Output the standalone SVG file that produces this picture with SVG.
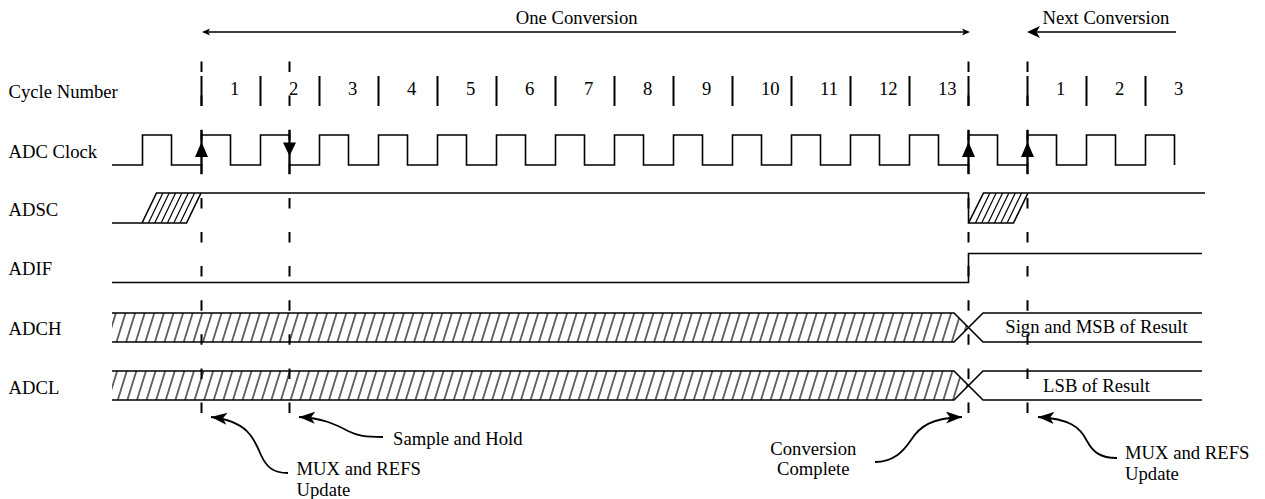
<svg xmlns="http://www.w3.org/2000/svg" width="1265" height="499" viewBox="0 0 1265 499">
<style>
text{font-family:"Liberation Serif","Times New Roman",serif;font-size:18.67px;fill:#000}
.sig{fill:none;stroke:#000;stroke-width:1.6}
.tick{fill:none;stroke:#000;stroke-width:2}
.dash{fill:none;stroke:#000;stroke-width:2;stroke-dasharray:10.5 23.6}
.hl{fill:none;stroke:#000;stroke-width:1.2}
.ann{fill:none;stroke:#000;stroke-width:1.8;marker-end:url(#ah)}
.mid{text-anchor:middle}
</style>
<defs>
<marker id="ah" markerUnits="userSpaceOnUse" viewBox="0 0 18 14" markerWidth="18" markerHeight="14" refX="16" refY="6" orient="auto">
<path d="M0,0 L16,6 L0,12 L4,6 z" fill="#000"/>
</marker>
<pattern id="hatch" patternUnits="userSpaceOnUse" x="112" y="313" width="9.6" height="10" patternTransform="skewX(-17.2)">
<line x1="4.8" y1="-1" x2="4.8" y2="11" stroke="#000" stroke-width="1.2"/>
</pattern>
<clipPath id="cH"><polygon points="112,313 954,313 968.5,327.5 954,342 112,342"/></clipPath>
<clipPath id="cL"><polygon points="112,371 954,371 968.5,385.5 954,400 112,400"/></clipPath>
</defs>

<g id="labels">
<text x="8.5" y="98">Cycle Number</text>
<text x="8.5" y="157.5">ADC Clock</text>
<text x="8.5" y="215.5">ADSC</text>
<text x="8.5" y="275">ADIF</text>
<text x="8.5" y="335">ADCH</text>
<text x="8.5" y="393.5">ADCL</text>
</g>

<g id="conversion-span">
<path class="sig" d="M206,32 H966"/>
<polygon points="202,32 210,28.5 208,32 210,35.5"/>
<polygon points="970,32 962,28.5 964,32 962,35.5"/>
<text class="mid" x="576.7" y="24">One Conversion</text>
</g>
<g id="next-conversion">
<path class="sig" d="M1176,32 H1034"/>
<polygon points="1027,32 1040,26 1036.5,32 1040,38"/>
<text x="1042.5" y="24">Next Conversion</text>
</g>

<g id="cycle-numbers">
<path class="tick" d="M201.5,76V106M260.5,76V106M319.5,76V106M378.5,76V106M437.5,76V106M496.5,76V106M555.5,76V106M614.5,76V106M673.5,76V106M732.5,76V106M791.5,76V106M850.5,76V106M909.5,76V106M968.5,76V106M1027.5,76V106M1086.5,76V106M1145.5,76V106"/>
<text x="230" y="94.5">1</text>
<text x="289" y="94.5">2</text>
<text x="348" y="94.5">3</text>
<text x="407" y="94.5">4</text>
<text x="466" y="94.5">5</text>
<text x="525" y="94.5">6</text>
<text x="584" y="94.5">7</text>
<text x="643" y="94.5">8</text>
<text x="702" y="94.5">9</text>
<text x="761" y="94.5">10</text>
<text x="820" y="94.5">11</text>
<text x="879" y="94.5">12</text>
<text x="938" y="94.5">13</text>
<text x="1056" y="94.5">1</text>
<text x="1115" y="94.5">2</text>
<text x="1174" y="94.5">3</text>
</g>

<g id="markers-dashed">
<path class="dash" d="M201.5,61.5V414M289.5,61.5V414M968.5,61.5V414M1027.5,61.5V414"/>
</g>

<g id="adc-clock">
<path class="sig" d="M112,165 H142.5V135h29V165 H201.5V135h29V165 H260.5V135h29V165 H319.5V135h29V165 H378.5V135h29V165 H437.5V135h29V165 H496.5V135h29V165 H555.5V135h29V165 H614.5V135h29V165 H673.5V135h29V165 H732.5V135h29V165 H791.5V135h29V165 H850.5V135h29V165 H909.5V135h29V165 H968.5V135h29V165 H1027.5V135h29V165 H1086.5V135h29V165 H1145.5V135h29V165"/>
<path class="tick" d="M201.5,130V174M289.5,130V174M968.5,130V174M1027.5,130V174"/>
<polygon points="201.5,142 195,157 208,157"/>
<polygon points="283,142.5 296,142.5 289.5,156"/>
<polygon points="968.5,142 962,157 975,157"/>
<polygon points="1027.5,142 1021,157 1034,157"/>
</g>

<g id="adsc">
<path class="sig" d="M112,223 H186.5 L201,193 M142,223 L156.5,193 H968.5 V223 H1013.5 L1028,193 M968.5,223 L983.5,193 H1205"/>
<path class="hl" d="M148.4,223L162.9,193M154.7,223L169.2,193M161.1,223L175.6,193M167.4,223L181.9,193M173.8,223L188.3,193M180.1,223L194.6,193M975.4,223L989.9,193M981.7,223L996.2,193M988.1,223L1002.6,193M994.4,223L1008.9,193M1000.8,223L1015.3,193M1007.1,223L1021.6,193"/>
</g>

<g id="adif">
<path class="sig" d="M112,282.5 H968.5 V253.5 H1202"/>
</g>

<g id="adch">
<rect x="112" y="313" width="860" height="29" fill="url(#hatch)" clip-path="url(#cH)"/>
<path class="sig" d="M112,313 H954 L983,342 H1202 M112,342 H954 L983,313 H1202"/>
<text class="mid" x="1096.5" y="333">Sign and MSB of Result</text>
</g>

<g id="adcl">
<rect x="112" y="371" width="860" height="29" fill="url(#hatch)" clip-path="url(#cL)"/>
<path class="sig" d="M112,371 H954 L983,400 H1202 M112,400 H954 L983,371 H1202"/>
<text class="mid" x="1096.5" y="392">LSB of Result</text>
</g>

<g id="annotations">
<path class="ann" d="M288,473 C272,473 266,466 261,455 C254,438 247,421 211,417"/>
<text x="296.5" y="475">MUX and REFS</text>
<text x="296.5" y="495.5">Update</text>
<path class="ann" d="M383,437 C365,437 358,436 348,431 C335,424 322,418 299,417"/>
<text x="393" y="445">Sample and Hold</text>
<path class="ann" d="M875,462 C893,462 903,452 911,440 C920,426 932,418 962,417"/>
<text class="mid" x="813.3" y="455">Conversion</text>
<text class="mid" x="813.3" y="475">Complete</text>
<path class="ann" d="M1117,458 C1100,458 1093,452 1087,441 C1080,427 1070,419 1038,417"/>
<text x="1125" y="459">MUX and REFS</text>
<text x="1125" y="479.5">Update</text>
</g>
</svg>
